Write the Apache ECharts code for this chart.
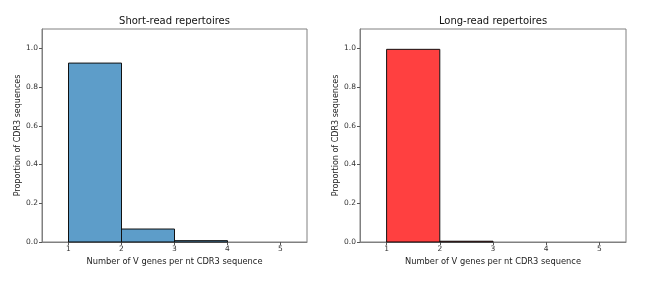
<!DOCTYPE html>
<html>
<head>
<meta charset="utf-8">
<script src="https://cdn.jsdelivr.net/npm/echarts@6/dist/echarts.min.js"></script>
<style>
  html, body { margin: 0; padding: 0; background: #fff; }
  #main { width: 648px; height: 289px; }
</style>
</head>
<body>
<div id="main"></div>
<script>
// bin edges (number of V genes) and proportions per bin
var binEdges = [1, 2, 3, 4, 5]
var shortRead = [0.924, 0.067, 0.007, 0]
var longRead = [0.995, 0.004, 0, 0]
var xTicks = [1, 2, 3, 4, 5]
var yTicks = [0, 0.2, 0.4, 0.6, 0.8, 1.0]
var titles = ['Short-read repertoires', 'Long-read repertoires']

var font = 'DejaVu Sans'

function bins (vals) {
    return vals.map(function (v, i) {
        return [binEdges[i], binEdges[i + 1], v]
    })
}

function renderBar (params, api) {
    // empty bins are not drawn
    if (!api.value(2)) return null
    var p0 = api.coord([api.value(0), api.value(2)])
    var p1 = api.coord([api.value(1), 0])
    return {
        type: 'rect',
        shape: { x: p0[0], y: p0[1], width: p1[0] - p0[0], height: p1[1] - p0[1] },
        style: api.style()
    }
}

var grids = [
    { left: 42, top: 29, width: 265, height: 213 },
    { left: 360, top: 29, width: 266, height: 213 }
]

function xAxis (i) {
    return {
        type: 'value',
        gridIndex: i,
        min: 0.5,
        max: 5.5,
        name: 'Number of V genes per nt CDR3 sequence',
        nameLocation: 'middle',
        nameGap: 12,
        nameTextStyle: { fontFamily: font, fontSize: 8.3, color: '#222' },
        splitLine: { show: false },
        axisLine: { show: true, onZero: false, lineStyle: { color: '#808080' } },
        axisTick: { show: true, length: 3, customValues: xTicks, lineStyle: { color: '#555' } },
        axisLabel: { customValues: xTicks, fontFamily: font, fontSize: 7.5, color: '#333', margin: 3 }
    }
}

function yAxis (i) {
    return {
        type: 'value',
        gridIndex: i,
        min: 0,
        max: 1.1,
        name: 'Proportion of CDR3 sequences',
        nameLocation: 'middle',
        nameGap: 17,
        nameTextStyle: { fontFamily: font, fontSize: 8, color: '#222' },
        splitLine: { show: false },
        axisLine: { show: true, lineStyle: { color: '#808080' } },
        axisTick: { show: true, length: 3, customValues: yTicks, lineStyle: { color: '#555' } },
        axisLabel: {
            customValues: yTicks, fontFamily: font, fontSize: 7.5, color: '#333', margin: 4,
            formatter: function (v) { return v.toFixed(1) }
        }
    }
}

var myChart = echarts.init(document.getElementById('main'), null, { renderer: 'canvas' })
myChart.setOption({
    animation: false,
    backgroundColor: '#fff',
    graphic: titles.map(function (t, i) {
        return {
            type: 'text',
            x: grids[i].left + grids[i].width / 2,
            y: 21,
            style: {
                text: t,
                align: 'center',
                verticalAlign: 'middle',
                font: '10px "DejaVu Sans"',
                fill: '#111'
            }
        }
    }),
    grid: grids.map(function (g) {
        return Object.assign({ show: true, borderColor: '#808080', borderWidth: 1, backgroundColor: '#fff' }, g)
    }),
    xAxis: [xAxis(0), xAxis(1)],
    yAxis: [yAxis(0), yAxis(1)],
    series: [
        {
            type: 'custom',
            xAxisIndex: 0,
            yAxisIndex: 0,
            renderItem: renderBar,
            itemStyle: { color: 'rgba(31,119,180,0.72)', borderColor: '#111', borderWidth: 1 },
            data: bins(shortRead)
        },
        {
            type: 'custom',
            xAxisIndex: 1,
            yAxisIndex: 1,
            renderItem: renderBar,
            itemStyle: { color: 'rgba(255,0,0,0.75)', borderColor: '#111', borderWidth: 1 },
            data: bins(longRead)
        }
    ]
})
</script>
</body>
</html>
